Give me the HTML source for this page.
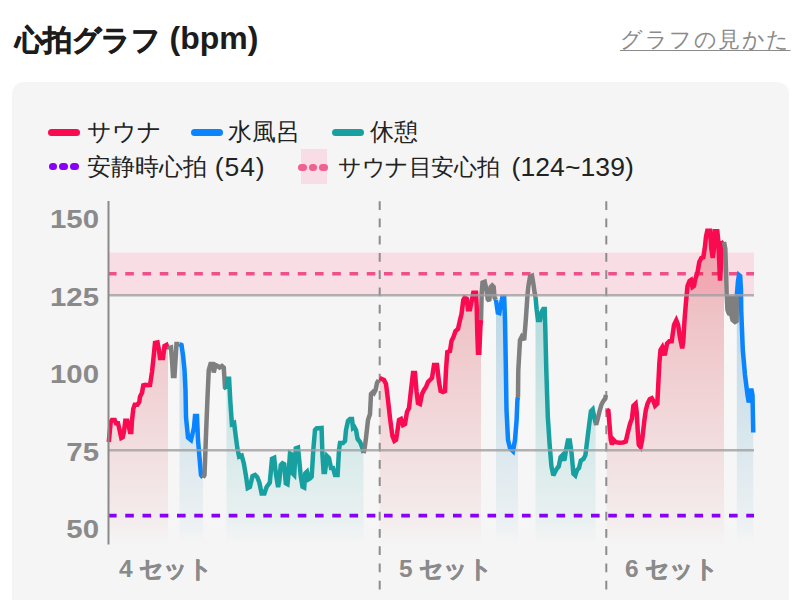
<!DOCTYPE html>
<html><head><meta charset="utf-8"><style>
html,body{margin:0;padding:0;}
body{width:800px;height:600px;background:#fff;position:relative;overflow:hidden;font-family:"Liberation Sans",sans-serif;color:#222;}
.t{position:absolute;white-space:nowrap;line-height:1;}
.card{position:absolute;left:12px;top:82px;width:776.5px;height:560px;background:#f5f5f5;border-radius:12px;}
.ttl{left:15px;top:25px;font-size:30px;font-weight:bold;color:#1c1c1c;}
.lnk{left:620px;top:29px;font-size:22px;color:#8a8a8a;text-decoration:underline;text-underline-offset:3px;text-decoration-thickness:1px;letter-spacing:1.5px;}
.lg{font-size:23.5px;color:#222;}
.pill{position:absolute;height:7px;border-radius:4px;width:32px;}
.dot{position:absolute;width:8.5px;height:7px;border-radius:4px;}
.yl{font-size:26px;font-weight:bold;color:#8a8a8a;text-align:right;width:60px;left:38.5px;transform-origin:right center;transform:scaleX(1.13);}
.xl{font-size:24.5px;font-weight:bold;color:#8a8a8a;letter-spacing:-0.5px;}
.xl span{-webkit-text-stroke:0.45px #8a8a8a;margin-left:6.5px;font-size:23.5px;}
.ttl span{-webkit-text-stroke:0.6px #1c1c1c;font-size:29px;letter-spacing:-0.6px;}
.ttl2{left:169.5px;top:22px;font-size:32px;font-weight:bold;color:#1c1c1c;}
.lt{font-size:26.5px;color:#222;letter-spacing:0.4px;}
.lg b{font-weight:normal;font-size:26.5px;}
</style></head><body>
<div class="t ttl"><span>心拍グラフ</span></div>
<div class="t ttl2">(bpm)</div>
<div class="t lnk">グラフの見かた</div>
<div class="card"></div>
<div class="pill" style="left:48px;top:129px;background:#fa0a50"></div>
<div class="t lg" style="left:87px;top:121px">サウナ</div>
<div class="pill" style="left:190.5px;top:129px;background:#0a84ff"></div>
<div class="t lg" style="left:228px;top:121px">水風呂</div>
<div class="pill" style="left:332px;top:129px;background:#18a0a0"></div>
<div class="t lg" style="left:370px;top:121px">休憩</div>
<div class="dot" style="left:48.5px;top:163.3px;background:#8800f5"></div>
<div class="dot" style="left:59.3px;top:163.3px;background:#8800f5"></div>
<div class="dot" style="left:70.2px;top:163.3px;background:#8800f5"></div>
<div class="t lg" style="left:87px;top:156px">安静時心拍</div>
<div class="t lt" style="left:214.8px;top:154px;letter-spacing:0.9px">(54)</div>
<div style="position:absolute;left:301px;top:149px;width:26px;height:35px;background:#f9dde6"></div>
<div class="dot" style="left:298px;top:163.5px;background:#f06090"></div>
<div class="dot" style="left:308.6px;top:163.5px;background:#f06090"></div>
<div class="dot" style="left:319.3px;top:163.5px;background:#f06090"></div>
<div class="t lg" style="left:338px;top:156px;font-size:23.3px;letter-spacing:-0.4px">サウナ目安心拍</div>
<div class="t lt" style="left:511.5px;top:154px;letter-spacing:0.1px">(124~139)</div>
<svg width="800" height="600" viewBox="0 0 800 600" style="position:absolute;left:0;top:0">
<defs>
<linearGradient id="gR" gradientUnits="userSpaceOnUse" x1="0" y1="202" x2="0" y2="565"><stop offset="0" stop-color="#d70014" stop-opacity="0.3"/><stop offset="0.876" stop-color="#d70014" stop-opacity="0.0372"/><stop offset="0.945" stop-color="#d70014" stop-opacity="0"/></linearGradient>
<linearGradient id="gB" gradientUnits="userSpaceOnUse" x1="0" y1="202" x2="0" y2="565"><stop offset="0" stop-color="#2f8fc0" stop-opacity="0.4"/><stop offset="0.876" stop-color="#2f8fc0" stop-opacity="0.0496"/><stop offset="0.945" stop-color="#2f8fc0" stop-opacity="0"/></linearGradient>
<linearGradient id="gT" gradientUnits="userSpaceOnUse" x1="0" y1="202" x2="0" y2="565"><stop offset="0" stop-color="#18a0a0" stop-opacity="0.42"/><stop offset="0.876" stop-color="#18a0a0" stop-opacity="0.0521"/><stop offset="0.945" stop-color="#18a0a0" stop-opacity="0"/></linearGradient>
<linearGradient id="gW" gradientUnits="userSpaceOnUse" x1="0" y1="202" x2="0" y2="565"><stop offset="0" stop-color="#ffffff" stop-opacity="0.45"/><stop offset="0.876" stop-color="#ffffff" stop-opacity="0.0558"/><stop offset="0.945" stop-color="#ffffff" stop-opacity="0"/></linearGradient>
</defs>
<rect x="108" y="252.5" width="646" height="42.5" fill="#f9dde5"/>
<line x1="108" y1="273.8" x2="754" y2="273.8" stroke="#f0508a" stroke-width="3.5" stroke-dasharray="8.6 8.65"/>
<g><polygon points="108.8,442 110.7,422 112,420 114.7,420 116,423.3 118,423.3 119.3,428.7 121.3,438 122.7,437.3 124,431.3 125.3,420.7 127.3,420.7 128.7,426 130,432 131.3,432 132,420.7 133.3,408.7 134.7,404.7 137.3,404.7 139.3,402 140,396.7 142,392.7 143.3,385.3 145.3,384.7 148,385.3 150,385 152,372 153.5,358 155,343 157.5,342.5 159,350 160,358 163,358 164.5,346 166.5,345 168,349 168,545 108.8,545" fill="url(#gR)"/><polygon points="168,349 169.5,348 171,347.5 172,360 173,376 174.5,376 175.5,360 176.5,344 178,344 179.5,344 179.5,545 168,545" fill="url(#gW)"/><polygon points="179.5,344 181.5,345 183,355 184.5,370 185.5,390 186,417 188,437.5 191,440 194,427.5 195,416 197,416 198,440 199.5,457.5 201,475 203,477.5 203,545 179.5,545" fill="url(#gB)"/><polygon points="203,477.5 204.5,475 206,435 207.5,397.5 208.75,370 210.5,364 212.5,364 213.75,372.5 215.5,365 217.5,366 219.5,367.5 222,366 223.75,367.5 225,387.5 226.5,389 226.5,545 203,545" fill="url(#gW)"/><polygon points="226.5,389 227.6,378.7 229.1,378.7 230.4,402.5 231.9,424.2 234.1,423 235.6,435 237.3,448 239.1,456.7 241.7,455.6 243.8,463.2 246,476.2 247.7,488.1 249.9,487 252.5,476.2 255.1,475 257.3,477.3 259.4,482.7 261.6,493.5 264.4,493.5 266.6,487 269.8,482.7 272,458.8 274.2,457.8 275.9,474 278.1,487 279.2,481.7 280.8,465 282.5,463.3 284.2,464.2 285.8,483.3 287.5,484.2 288.7,471.7 290,453.3 291.3,454.2 292.5,473.3 294.2,475 295.8,448.3 298,447.5 299.2,460 300.8,476.7 302.5,486.7 304.2,487.5 305.3,473.3 307,471.7 308.7,479.2 310.3,478.3 311.7,476.7 313.3,450 315,430 316.7,428.3 319.2,428.3 321.6,428 322.4,454 323.6,472 325,472 327,456 329,458 331,468 333,468 335,475 337.6,475 339,450 340,443 343,443 345,441 346,430 348,421 350,419 352,419 353,428 354.4,427 356,430 357.6,439 360,442 362,447 363.5,453 363.5,545 226.5,545" fill="url(#gT)"/><polygon points="363.5,453 364.4,450 366,438 368,420 370,414 371,394 373,392 374,393 375.6,390 377,383 378.6,380 378.6,545 363.5,545" fill="url(#gW)"/><polygon points="379.6,378 382,379 384,380 386,384 388,400 390,418 392.4,436 394.4,441 396,440 397,434 399,420 401,419 403,425 405,424 407,412 409,408 411,390 413,373 415,373 416.6,392 418,403 420,404 422,394 424,390 426,387 428,382 430,380 432,378 434,365 437,365 439,382 440.6,391 443,392 445,391 446,370 447.3,352 450,351 451.5,341 453.5,337 455.5,331 458,329 460,320 461.5,314 463.3,300 464.7,297.5 466.7,298.7 468,309.3 470,309.3 472,299.3 473.3,292.7 476,292.7 476.7,306.7 477.3,333.3 478,352.7 479.3,352.7 480.4,326.7 481,320 481,545 379.6,545" fill="url(#gR)"/><polygon points="481,320 481.7,293 482.5,282.5 484.7,281.7 486.2,288.5 487.7,299 489.2,301 490.7,287 492.2,285.5 493.7,287 494.5,297.5 496,300 496,545 481,545" fill="url(#gW)"/><polygon points="496,300 496.7,305 497.8,312.5 499.3,313 500.8,305 502.3,297.5 504.2,297.5 505,320 505.8,365 506.5,410 508,440 510,448 513,451 515,440 516.6,420 517.4,400 518,397 518,545 496,545" fill="url(#gB)"/><polygon points="518,397 518.3,370 520,340 521.7,336.7 524.2,340 525.8,320 527.5,295 528.3,286.7 530,276.7 532,275.8 533.3,283.3 534.7,293.3 535.5,297 535.5,545 518,545" fill="url(#gW)"/><polygon points="535.5,297 536.7,310 538,320 540,320 541.7,311.7 543.3,309 544.7,309 545.3,328.3 546.3,370 547.8,416.7 549.6,444.2 551.4,466.2 553.3,475.4 556,470 558.8,466.2 560.6,457 562.4,455.2 564.3,460.7 566.1,449.7 567.9,440.6 569.8,440.6 571.6,453.4 573.4,473.6 575.3,475.4 577.1,470 579,468 580.8,460.7 583.5,458.9 585.4,455.2 587.2,440.6 589,425.9 590.9,411.2 592.7,409.4 594.2,416.7 595.6,423 595.6,545 535.5,545" fill="url(#gT)"/><polygon points="595.6,423 596.2,424.7 598,417.7 599.7,410.7 601.4,404.8 603.2,401.3 605,399 606,395 606,545 595.6,545" fill="url(#gW)"/><polygon points="606.7,409.5 608.4,410.7 609.6,425.8 610.8,439.8 612,444.5 613.7,439.8 616,442.2 619.5,442.8 623,442.5 625.8,441.6 628,431.8 630.2,423.2 631.9,418.8 633.4,405.8 635.6,403.7 636.7,412.3 637.8,431.8 638.8,444.8 640.6,447 642.1,440.5 644.3,421 645.8,410.2 647.5,403.7 649.7,399.3 651.8,398.3 653.6,401.5 655.1,405.8 657.3,403.7 658.3,384.2 659.4,362.5 660.5,350 662.3,347.2 664.7,355.3 667,343.7 669.3,341.3 671.7,341.3 674,325 676.3,320.3 678.2,325 679.8,336.7 682.2,348.3 683.3,341.3 684.5,320.3 686,302 687.5,286 689.5,281 691,280 692.5,287 694,286 695,280 697.5,272.5 699.3,262 701.3,258 703.3,257.3 704.7,248.7 706,236.7 707.3,230.7 710,230.7 711.3,248.7 712.7,258 714,248.7 714.7,231.3 717.3,231.3 718.3,240.7 719.2,262 720,280.7 721.2,262 722,243.3 724,242 724,545 606.7,545" fill="url(#gR)"/><polygon points="724,242 725.3,248.7 726,270 726.7,295 727.5,310 729,313.5 731,314 732.5,320 735,322 736.6,321 736.8,296 736.8,545 724,545" fill="url(#gW)"/><polygon points="736.8,296 738,281 739,275 740.2,276 741,290 741.2,310 742,330 742.8,350 745,375 747.5,395 748.75,402.5 751.25,388.75 752.5,395 753.25,432.5 753.25,545 736.8,545" fill="url(#gB)"/></g>
<line x1="108" y1="515.6" x2="754" y2="515.6" stroke="#8800f5" stroke-width="3.8" stroke-dasharray="8.6 8.65"/>
<line x1="379.7" y1="201.3" x2="379.7" y2="590" stroke="#8c8c8c" stroke-width="2" stroke-dasharray="8.6 8.65"/>
<line x1="606.3" y1="201.3" x2="606.3" y2="590" stroke="#8c8c8c" stroke-width="2" stroke-dasharray="8.6 8.65"/>
<polygon points="726,295.5 737.5,295.5 737.5,322 732.5,322 731,314 726.5,313.5" fill="#7f7f7f"/>
<g fill="none" stroke-width="4.5" stroke-linejoin="miter" stroke-miterlimit="2.5" stroke-linecap="butt"><polyline points="108.8,442 110.7,422 112,420 114.7,420 116,423.3 118,423.3 119.3,428.7 121.3,438 122.7,437.3 124,431.3 125.3,420.7 127.3,420.7 128.7,426 130,432 131.3,432 132,420.7 133.3,408.7 134.7,404.7 137.3,404.7 139.3,402 140,396.7 142,392.7 143.3,385.3 145.3,384.7 148,385.3 150,385 152,372 153.5,358 155,343 157.5,342.5 159,350 160,358 163,358 164.5,346 166.5,345 168,349" stroke="#fa0a50"/><polyline points="168,349 169.5,348 171,347.5 172,360 173,376 174.5,376 175.5,360 176.5,344 178,344 179.5,344" stroke="#7f7f7f"/><polyline points="179.5,344 181.5,345 183,355 184.5,370 185.5,390 186,417 188,437.5 191,440 194,427.5 195,416 197,416 198,440 199.5,457.5 201,475 203,477.5" stroke="#0a84ff"/><polyline points="203,477.5 204.5,475 206,435 207.5,397.5 208.75,370 210.5,364 212.5,364 213.75,372.5 215.5,365 217.5,366 219.5,367.5 222,366 223.75,367.5 225,387.5 226.5,389" stroke="#7f7f7f"/><polyline points="226.5,389 227.6,378.7 229.1,378.7 230.4,402.5 231.9,424.2 234.1,423 235.6,435 237.3,448 239.1,456.7 241.7,455.6 243.8,463.2 246,476.2 247.7,488.1 249.9,487 252.5,476.2 255.1,475 257.3,477.3 259.4,482.7 261.6,493.5 264.4,493.5 266.6,487 269.8,482.7 272,458.8 274.2,457.8 275.9,474 278.1,487 279.2,481.7 280.8,465 282.5,463.3 284.2,464.2 285.8,483.3 287.5,484.2 288.7,471.7 290,453.3 291.3,454.2 292.5,473.3 294.2,475 295.8,448.3 298,447.5 299.2,460 300.8,476.7 302.5,486.7 304.2,487.5 305.3,473.3 307,471.7 308.7,479.2 310.3,478.3 311.7,476.7 313.3,450 315,430 316.7,428.3 319.2,428.3 321.6,428 322.4,454 323.6,472 325,472 327,456 329,458 331,468 333,468 335,475 337.6,475 339,450 340,443 343,443 345,441 346,430 348,421 350,419 352,419 353,428 354.4,427 356,430 357.6,439 360,442 362,447 363.5,453" stroke="#18a0a0"/><polyline points="363.5,453 364.4,450 366,438 368,420 370,414 371,394 373,392 374,393 375.6,390 377,383 378.6,380" stroke="#7f7f7f"/><polyline points="379.6,378 382,379 384,380 386,384 388,400 390,418 392.4,436 394.4,441 396,440 397,434 399,420 401,419 403,425 405,424 407,412 409,408 411,390 413,373 415,373 416.6,392 418,403 420,404 422,394 424,390 426,387 428,382 430,380 432,378 434,365 437,365 439,382 440.6,391 443,392 445,391 446,370 447.3,352 450,351 451.5,341 453.5,337 455.5,331 458,329 460,320 461.5,314 463.3,300 464.7,297.5 466.7,298.7 468,309.3 470,309.3 472,299.3 473.3,292.7 476,292.7 476.7,306.7 477.3,333.3 478,352.7 479.3,352.7 480.4,326.7 481,320" stroke="#fa0a50"/><polyline points="481,320 481.7,293 482.5,282.5 484.7,281.7 486.2,288.5 487.7,299 489.2,301 490.7,287 492.2,285.5 493.7,287 494.5,297.5 496,300" stroke="#7f7f7f"/><polyline points="496,300 496.7,305 497.8,312.5 499.3,313 500.8,305 502.3,297.5 504.2,297.5 505,320 505.8,365 506.5,410 508,440 510,448 513,451 515,440 516.6,420 517.4,400 518,397" stroke="#0a84ff"/><polyline points="518,397 518.3,370 520,340 521.7,336.7 524.2,340 525.8,320 527.5,295 528.3,286.7 530,276.7 532,275.8 533.3,283.3 534.7,293.3 535.5,297" stroke="#7f7f7f"/><polyline points="535.5,297 536.7,310 538,320 540,320 541.7,311.7 543.3,309 544.7,309 545.3,328.3 546.3,370 547.8,416.7 549.6,444.2 551.4,466.2 553.3,475.4 556,470 558.8,466.2 560.6,457 562.4,455.2 564.3,460.7 566.1,449.7 567.9,440.6 569.8,440.6 571.6,453.4 573.4,473.6 575.3,475.4 577.1,470 579,468 580.8,460.7 583.5,458.9 585.4,455.2 587.2,440.6 589,425.9 590.9,411.2 592.7,409.4 594.2,416.7 595.6,423" stroke="#18a0a0"/><polyline points="595.6,423 596.2,424.7 598,417.7 599.7,410.7 601.4,404.8 603.2,401.3 605,399 606,395" stroke="#7f7f7f"/><polyline points="606.7,409.5 608.4,410.7 609.6,425.8 610.8,439.8 612,444.5 613.7,439.8 616,442.2 619.5,442.8 623,442.5 625.8,441.6 628,431.8 630.2,423.2 631.9,418.8 633.4,405.8 635.6,403.7 636.7,412.3 637.8,431.8 638.8,444.8 640.6,447 642.1,440.5 644.3,421 645.8,410.2 647.5,403.7 649.7,399.3 651.8,398.3 653.6,401.5 655.1,405.8 657.3,403.7 658.3,384.2 659.4,362.5 660.5,350 662.3,347.2 664.7,355.3 667,343.7 669.3,341.3 671.7,341.3 674,325 676.3,320.3 678.2,325 679.8,336.7 682.2,348.3 683.3,341.3 684.5,320.3 686,302 687.5,286 689.5,281 691,280 692.5,287 694,286 695,280 697.5,272.5 699.3,262 701.3,258 703.3,257.3 704.7,248.7 706,236.7 707.3,230.7 710,230.7 711.3,248.7 712.7,258 714,248.7 714.7,231.3 717.3,231.3 718.3,240.7 719.2,262 720,280.7 721.2,262 722,243.3 724,242" stroke="#fa0a50"/><polyline points="724,242 725.3,248.7 726,270 726.7,295 727.5,310 729,313.5 731,314 732.5,320 735,322 736.6,321 736.8,296" stroke="#7f7f7f"/><polyline points="736.8,296 738,281 739,275 740.2,276 741,290 741.2,310 742,330 742.8,350 745,375 747.5,395 748.75,402.5 751.25,388.75 752.5,395 753.25,432.5" stroke="#0a84ff"/></g>
<line x1="108" y1="295.3" x2="754" y2="295.3" stroke="#a0a0a0" stroke-opacity="0.8" stroke-width="2.5"/>
<line x1="108" y1="450.3" x2="754" y2="450.3" stroke="#a0a0a0" stroke-opacity="0.8" stroke-width="2.5"/>
<line x1="108.5" y1="201" x2="108.5" y2="544.5" stroke="#8a8a8a" stroke-width="2"/>
</svg>
<div class="t yl" style="top:206px">150</div>
<div class="t yl" style="top:284px">125</div>
<div class="t yl" style="top:361px">100</div>
<div class="t yl" style="top:439px">75</div>
<div class="t yl" style="top:516px">50</div>
<div class="t xl" style="left:119px;top:557px">4<span>セット</span></div>
<div class="t xl" style="left:399px;top:557px">5<span>セット</span></div>
<div class="t xl" style="left:625px;top:557px">6<span>セット</span></div>
</body></html>
